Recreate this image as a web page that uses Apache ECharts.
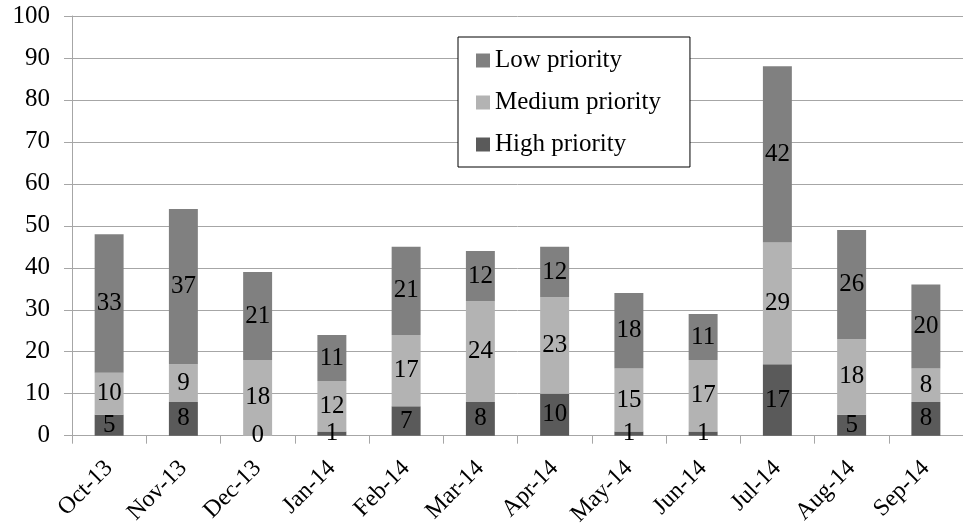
<!DOCTYPE html>
<html>
<head>
<meta charset="utf-8">
<script src="https://cdn.jsdelivr.net/npm/echarts@6/dist/echarts.min.js"></script>
<style>
  html, body { margin: 0; padding: 0; background: #fff; }
  #chart { width: 963px; height: 529px; }
</style>
</head>
<body>
<div id="chart"></div>
<script>
// Monthly issue counts split by priority
const months = ['Oct-13', 'Nov-13', 'Dec-13', 'Jan-14', 'Feb-14', 'Mar-14', 'Apr-14', 'May-14', 'Jun-14', 'Jul-14', 'Aug-14', 'Sep-14'];
const highPriority = [5, 8, 0, 1, 7, 8, 10, 1, 1, 17, 5, 8];
const mediumPriority = [10, 9, 18, 12, 17, 24, 23, 15, 17, 29, 18, 8];
const lowPriority = [33, 37, 21, 11, 21, 12, 12, 18, 11, 42, 26, 20];
const yTicks = { min: 0, max: 100, interval: 10 };

const serif = '"Liberation Serif", "Times New Roman", serif';
const gridGray = '#a6a6a6';

const labelStyle = {
  show: true,
  position: 'inside',
  color: '#000',
  fontFamily: serif,
  fontSize: 25
};

function barSeries(name, data, color) {
  return {
    name: name,
    type: 'bar',
    stack: 'total',
    data: data,
    barWidth: '39%',
    itemStyle: { color: color },
    label: labelStyle
  };
}

const chart = echarts.init(document.getElementById('chart'));
chart.setOption({
  animation: false,
  backgroundColor: '#fff',
  grid: { left: 72, right: 0, top: 16, bottom: 93 },
  legend: {
    orient: 'vertical',
    left: 458,
    top: 37,
    padding: [11, 29, 10, 18],
    itemGap: 17,
    itemWidth: 14,
    itemHeight: 14,
    icon: 'rect',
    backgroundColor: '#fff',
    borderColor: '#000',
    borderWidth: 1,
    textStyle: { fontFamily: serif, fontSize: 25, color: '#000' },
    data: ['Low priority', 'Medium priority', 'High priority']
  },
  xAxis: {
    type: 'category',
    data: months,
    axisLine: { lineStyle: { color: gridGray } },
    axisTick: { show: true, length: 8, lineStyle: { color: gridGray } },
    axisLabel: {
      rotate: 45,
      interval: 0,
      margin: 29,
      fontFamily: serif,
      fontSize: 24,
      color: '#000'
    }
  },
  yAxis: {
    type: 'value',
    min: yTicks.min,
    max: yTicks.max,
    interval: yTicks.interval,
    axisLine: { show: true, lineStyle: { color: gridGray } },
    axisTick: { show: true, length: 8, lineStyle: { color: gridGray } },
    splitLine: { lineStyle: { color: gridGray } },
    axisLabel: {
      margin: 22,
      fontFamily: serif,
      fontSize: 25,
      color: '#000'
    }
  },
  series: [
    barSeries('High priority', highPriority, '#5a5a5a'),
    barSeries('Medium priority', mediumPriority, '#b3b3b3'),
    barSeries('Low priority', lowPriority, '#808080')
  ]
});
</script>
</body>
</html>
